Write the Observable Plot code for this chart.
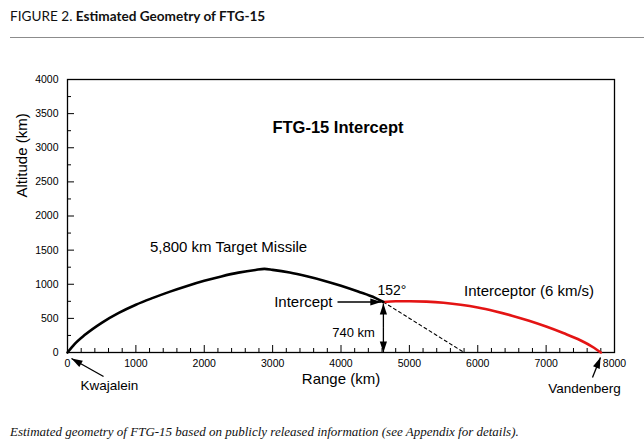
<!DOCTYPE html>
<html><head><meta charset="utf-8">
<script src="https://cdn.jsdelivr.net/npm/d3@7"></script>
<script src="https://cdn.jsdelivr.net/npm/@observablehq/plot@0.6"></script>
<style>
body{margin:0;background:#fff;}
#wrap{position:relative;width:644px;height:448px;overflow:hidden;background:#fff;}
#title{position:absolute;left:10px;top:8px;font-family:Lato,"Open Sans",sans-serif;font-size:13.6px;color:#111;white-space:nowrap;}
#rule{position:absolute;left:10px;right:0;top:37px;height:0;border-top:1px solid #8c8c8c;}
#chart{position:absolute;left:0;top:50px;}
#caption{position:absolute;left:10px;top:424px;font-family:"Liberation Serif","Times New Roman",serif;font-style:italic;font-size:13px;color:#111;white-space:nowrap;}
</style></head>
<body>
<div id="wrap">
  <div id="title">FIGURE 2. <b>Estimated Geometry of FTG-15</b></div>
  <div id="rule"></div>
  <div id="chart"></div>
  <div id="caption">Estimated geometry of FTG-15 based on publicly released information (see Appendix for details).</div>
</div>
<script>
// ---- data (km) ----
const targetRange = [0, 100, 250, 500, 750, 1000, 1250, 1500, 1750, 2000, 2250, 2500, 2750, 2880, 3000, 3250, 3500, 3750, 4000, 4250, 4500, 4620];
const targetAlt   = [0, 120, 255, 435, 580, 700, 800, 892, 975, 1050, 1115, 1170, 1210, 1225, 1211, 1172, 1117, 1053, 978, 893, 800, 740];
const interceptorRange = [4620, 4800, 5000, 5250, 5500, 5750, 6000, 6250, 6500, 6750, 7000, 7250, 7500, 7700, 7800];
const interceptorAlt   = [740, 752, 752, 745, 728, 700, 660, 605, 540, 465, 380, 285, 180, 70, 0];
const interceptPoint = {range: 4620, alt: 740};
const targetImpact = {range: 5800, alt: 0};
const xMajorTicks = [0, 1000, 2000, 3000, 4000, 5000, 6000, 7000, 8000];
const xMinorTicks = [200, 400, 600, 800, 1200, 1400, 1600, 1800, 2200, 2400, 2600, 2800, 3200, 3400, 3600, 3800, 4200, 4400, 4600, 4800, 5200, 5400, 5600, 5800, 6200, 6400, 6600, 6800, 7200, 7400, 7600, 7800];
const yMajorTicks = [0, 500, 1000, 1500, 2000, 2500, 3000, 3500, 4000];
const yMinorTicks = [250, 750, 1250, 1750, 2250, 2750, 3250, 3750];

// annotations
const labels = [
  {text: "FTG-15 Intercept", range: 3956, alt: 3297, size: 16.5, weight: "bold", anchor: "middle"},
  {text: "5,800 km Target Missile", range: 2355, alt: 1538, size: 15, weight: "normal", anchor: "middle"},
  {text: "Intercept", range: 3876, alt: 740, size: 15, weight: "normal", anchor: "end"},
  {text: "152°", range: 4534, alt: 908, size: 14, weight: "normal", anchor: "start"},
  {text: "740 km", range: 4183, alt: 293, size: 13, weight: "normal", anchor: "middle"},
  {text: "Interceptor (6 km/s)", range: 6750, alt: 894, size: 15, weight: "normal", anchor: "middle"},
  {text: "Kwajalein", range: 614, alt: -484, size: 13.5, weight: "normal", anchor: "middle"},
  {text: "Vandenberg", range: 7561, alt: -527, size: 13.5, weight: "normal", anchor: "middle"}
];
// arrows: tail -> tip (heads at tip)
const arrows = [
  {x1: 3949, y1: 740, x2: 4590, y2: 740},
  {x1: 4620, y1: 360, x2: 4620, y2: 718},
  {x1: 4620, y1: 360, x2: 4620, y2: 0},
  {x1: 527, y1: -352, x2: 58, y2: -88},
  {x1: 7678, y1: -366, x2: 7795, y2: -73}
];

const target = targetRange.map((r, i) => ({range: r, alt: targetAlt[i]}));
const interceptor = interceptorRange.map((r, i) => ({range: r, alt: interceptorAlt[i]}));

const W = 644, H = 360, mL = 67, mR = 30, mT = 29, mB = 58;
const kx = (W - mL - mR) / 8000, ky = (H - mT - mB) / 4000;

function headSymbol(a) {
  const L = 11, w = 3.6, c = Math.cos(a), s = Math.sin(a);
  return {draw(ctx) {
    ctx.moveTo(0, 0);
    ctx.lineTo(-L * c - w * -s, -L * s - w * c);
    ctx.lineTo(-L * c + w * -s, -L * s + w * c);
    ctx.closePath();
  }};
}
const headMarks = arrows.map(a => {
  const ang = Math.atan2(-(a.y2 - a.y1) * ky, (a.x2 - a.x1) * kx);
  return Plot.dot([a], {x: "x2", y: "y2", symbol: headSymbol(ang), fill: "black", stroke: "none", r: 5});
});

const fmt = d => String(d);
const chart = Plot.plot({
  width: W, height: H,
  marginLeft: mL, marginRight: mR, marginTop: mT, marginBottom: mB,
  x: {domain: [0, 8000], label: null},
  y: {domain: [0, 4000], label: null},
  style: {fontFamily: '"Liberation Sans", Arial, sans-serif', fontSize: "10.5px", background: "white", color: "black", overflow: "visible"},
  marks: [
    Plot.axisX(xMajorTicks, {tickSize: 0, tickPadding: 7.5, tickFormat: fmt, label: null}),
    Plot.axisX(xMajorTicks, {tickSize: 7, dy: -7, fill: "none", strokeWidth: 1, label: null}),
    Plot.axisX(xMinorTicks, {tickSize: 4, dy: -4, fill: "none", strokeWidth: 1, label: null}),
    Plot.axisY(yMajorTicks, {tickSize: 0, tickPadding: 9, tickFormat: fmt, label: null}),
    Plot.axisY(yMajorTicks, {tickSize: 7, dx: 7, fill: "none", strokeWidth: 1, label: null}),
    Plot.axisY(yMinorTicks, {tickSize: 4, dx: 4, fill: "none", strokeWidth: 1, label: null}),
    Plot.frame({stroke: "black", strokeWidth: 1.3}),
    Plot.text(["Altitude (km)"], {text: d => d, frameAnchor: "left", dx: -45.5, dy: -18.5, rotate: -90, fontSize: 15}),
    Plot.text(["Range (km)"], {text: d => d, frameAnchor: "bottom", dy: 31, fontSize: 15}),
    Plot.line([interceptPoint, targetImpact], {x: "range", y: "alt", stroke: "black", strokeWidth: 1.1, strokeDasharray: "3,3"}),
    Plot.line(interceptor, {x: "range", y: "alt", stroke: "#e41414", strokeWidth: 2.6, curve: "monotone-x"}),
    Plot.line(target, {x: "range", y: "alt", stroke: "black", strokeWidth: 2.6, curve: "monotone-x"}),
    Plot.link(arrows, {x1: "x1", y1: "y1", x2: "x2", y2: "y2", stroke: "black", strokeWidth: 1.3}),
    ...headMarks,
    ...labels.map(l => Plot.text([l], {x: "range", y: "alt", text: "text", fontSize: l.size, fontWeight: l.weight, textAnchor: l.anchor}))
  ]
});
document.getElementById("chart").appendChild(chart);
</script>
</body></html>
